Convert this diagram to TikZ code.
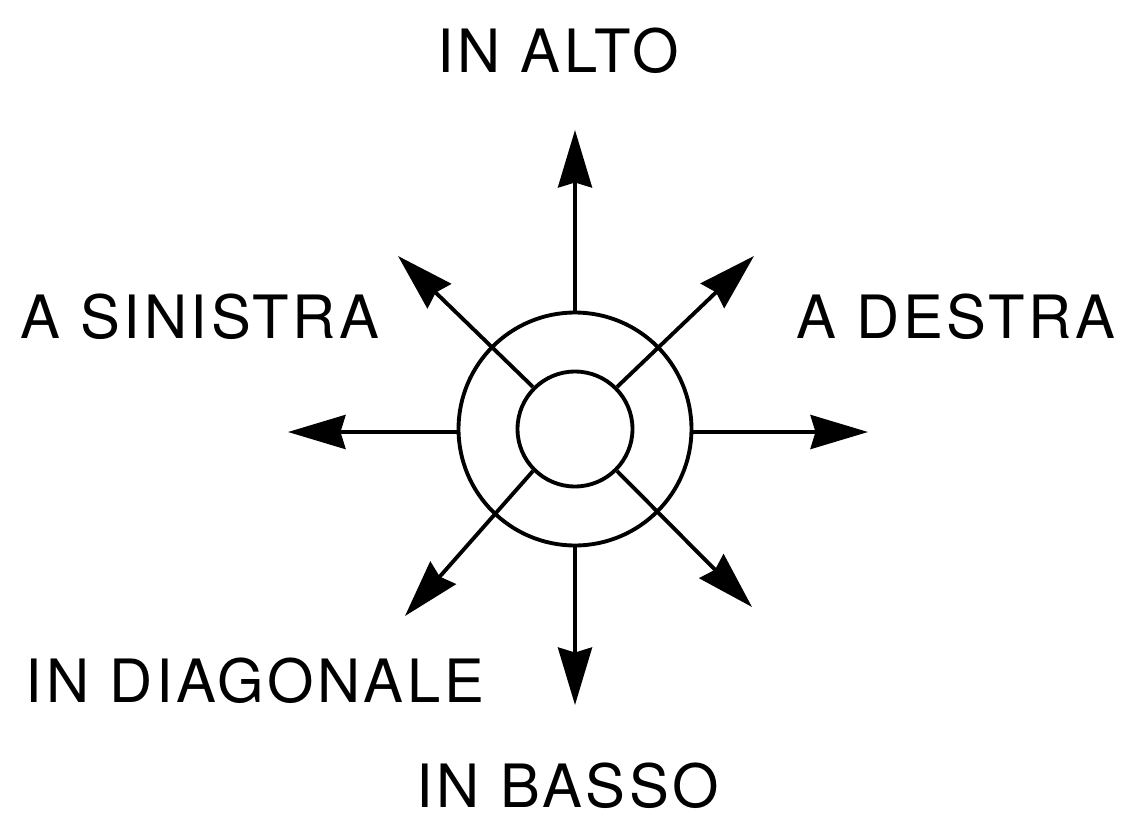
\documentclass[tikz,border=0pt]{standalone}
\usepackage{fontspec}
\newfontfamily\lblfont{TeX Gyre Heros}[LetterSpace=6]
\usetikzlibrary{arrows.meta}

\begin{document}
\begin{tikzpicture}[x=0.02cm, y=0.02cm,
  lbl/.style={font=\lblfont\fontsize{34}{40}\selectfont, inner sep=0pt},
  ring/.style={circle, draw, line width=2.2pt, minimum size=#1, inner sep=0pt},
  arr/.style={line width=2.2pt, -{Stealth[length=11.5mm, width=6.8mm, inset=1mm]}}
]
\fill[white] (-575,-393) rectangle (546,429);
\useasboundingbox (-575,-393) rectangle (546,429);

% rings
\node[ring=4.66cm] (outer) at (0,0) {};
\node[ring=2.3cm] (inner) at (0,0) {};

% arrow tips
\coordinate (up) at (0,299);
\coordinate (down) at (0,-276);
\coordinate (left) at (-287,-3);
\coordinate (right) at (293,-3);
\coordinate (ne) at (179,173);
\coordinate (nw) at (-177,173);
\coordinate (sw) at (-170,-187);
\coordinate (se) at (177,-178);

\draw[arr] (outer.north) -- (up);
\draw[arr] (outer.south) -- (down);
\draw[arr] (outer.west) ++(0,-3) -- (left);
\draw[arr] (outer.east) ++(0,-3) -- (right);
\draw[arr] (inner.45) -- (ne);
\draw[arr] (inner.135) -- (nw);
\draw[arr] (inner.225) -- (sw);
\draw[arr] (inner.315) -- (se);

% labels
\node[lbl] (alto) at (-17,378) {IN ALTO};
\node[lbl] (sinistra) at (-375,112) {A SINISTRA};
\node[lbl] (destra) at (381,112) {A DESTRA};
\node[lbl] (diagonale) at (-320,-252) {IN DIAGONALE};
\node[lbl] (basso) at (-7,-357) {IN BASSO};
\end{tikzpicture}
\end{document}
